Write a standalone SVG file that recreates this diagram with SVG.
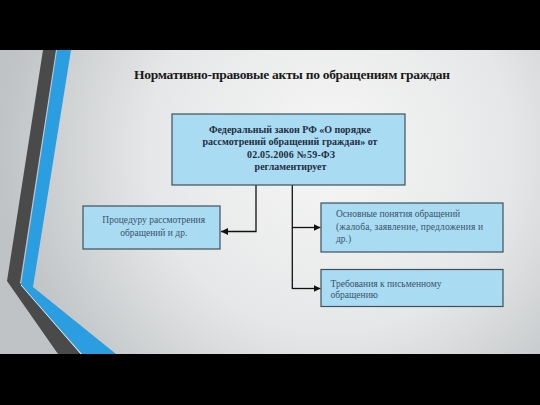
<svg xmlns="http://www.w3.org/2000/svg" width="540" height="405" viewBox="0 0 540 405">
  <defs>
    <radialGradient id="bg" cx="330" cy="150" r="330" gradientUnits="userSpaceOnUse">
      <stop offset="0" stop-color="#f6f6f6"/>
      <stop offset="0.55" stop-color="#e6e7e8"/>
      <stop offset="1" stop-color="#bfc3c5"/>
    </radialGradient>
    <marker id="arr" viewBox="0 0 10 10" refX="10" refY="5" markerWidth="7" markerHeight="7" markerUnits="userSpaceOnUse" orient="auto">
      <path d="M0,0 L10,5 L0,10 z" fill="#111"/>
    </marker>
    <style>
      .box { fill: #a9dbf3; stroke: #3f505c; stroke-width: 1.2; }
      .title { font-family: "Liberation Serif", serif; font-weight: bold; font-size: 13.5px; fill: #1a1a1a; }
      .main { font-family: "Liberation Serif", serif; font-weight: bold; font-size: 10px; fill: #1f2d3d; text-anchor: middle; }
      .txt { font-family: "Liberation Serif", serif; font-size: 9.5px; fill: #3b5266; }
      .conn { fill: none; stroke: #111; stroke-width: 1.3; }
    </style>
  </defs>
  <rect x="0" y="0" width="540" height="405" fill="#000"/>
  <rect x="0" y="50" width="540" height="304" fill="url(#bg)"/>
  <!-- decorative stripes -->
  <polygon points="43,50 56,50 20,283 81,354 58,354 7,281" fill="#4a4a4a"/>
  <polygon points="57,50 71,50 33,287 116,354 82,354 21,285" fill="#2a9ee0"/>
  <line x1="21" y1="285" x2="81" y2="354" stroke="#e8eef2" stroke-width="1"/>

  <text class="title" x="134" y="79" textLength="316">Нормативно-правовые акты по обращениям граждан</text>

  <g id="connectors">
    <polyline class="conn" points="256,185 256,231.5 221,231.5" marker-end="url(#arr)"/>
    <polyline class="conn" points="292.3,185 292.3,289"/>
    <line class="conn" x1="292.3" y1="227.5" x2="320.5" y2="227.5" marker-end="url(#arr)"/>
    <line class="conn" x1="292.3" y1="288.5" x2="320.5" y2="288.5" marker-end="url(#arr)"/>
  </g>

  <g id="main">
    <rect class="box" x="172" y="114" width="233" height="71"/>
    <text class="main" x="290" y="133" textLength="162">Федеральный закон РФ «О порядке</text>
    <text class="main" x="290" y="145" textLength="175">рассмотрений обращений граждан» от</text>
    <text class="main" x="291" y="158" textLength="88">02.05.2006 №59-ФЗ</text>
    <text class="main" x="290.5" y="170">регламентирует</text>
  </g>

  <g id="left">
    <rect class="box" x="83" y="206" width="137" height="43"/>
    <text class="txt" x="153.7" y="223.3" text-anchor="middle">Процедуру рассмотрения</text>
    <text class="txt" x="153.7" y="235.7" text-anchor="middle">обращений и др.</text>
  </g>

  <g id="right1">
    <rect class="box" x="321" y="203" width="182" height="49"/>
    <text class="txt" x="336" y="217.3">Основные понятия обращений</text>
    <text class="txt" x="336" y="230" textLength="147">(жалоба, заявление, предложения и</text>
    <text class="txt" x="336" y="242.3">др.)</text>
  </g>

  <g id="right2">
    <rect class="box" x="321" y="269.5" width="182" height="37"/>
    <text class="txt" x="330.5" y="286.7">Требования к письменному</text>
    <text class="txt" x="330.5" y="297.5">обращению</text>
  </g>
</svg>
